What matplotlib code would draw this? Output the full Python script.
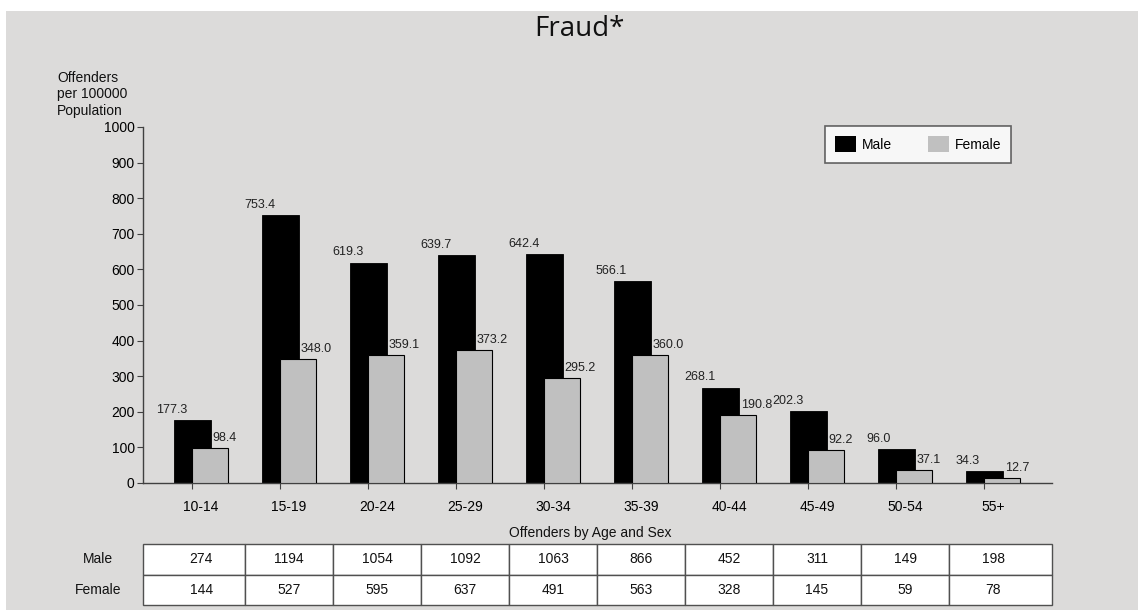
import numpy as np
import matplotlib
matplotlib.use("Agg")
import matplotlib.pyplot as plt
from matplotlib.patches import Rectangle

# データ
age_groups = ["10-14", "15-19", "20-24", "25-29", "30-34", "35-39", "40-44", "45-49", "50-54", "55+"]
male_rate = [177.3, 753.4, 619.3, 639.7, 642.4, 566.1, 268.1, 202.3, 96.0, 34.3]
female_rate = [98.4, 348.0, 359.1, 373.2, 295.2, 360.0, 190.8, 92.2, 37.1, 12.7]
male_count = [274, 1194, 1054, 1092, 1063, 866, 452, 311, 149, 198]
female_count = [144, 527, 595, 637, 491, 563, 328, 145, 59, 78]

plt.rcParams['font.family'] = ['Liberation Sans', 'DejaVu Sans']
BG = '#dcdbda'
FEMALE_C = '#c0c0c0'
EDGE = '#404040'

W, H = 1138, 610
fig = plt.figure(figsize=(W / 100, H / 100), dpi=100)
fig.patch.set_facecolor('white')
# 灰色の背景
fig.patches.append(Rectangle((6 / W, 0), 1 - 6 / W, 1 - 11 / H, transform=fig.transFigure,
                             facecolor=BG, edgecolor='none', zorder=-10))

def px_axes(x0, y0, x1, y1):
    # ピクセル座標(左上原点)でaxesを作る
    return fig.add_axes([x0 / W, 1 - y1 / H, (x1 - x0) / W, (y1 - y0) / H])

x = np.arange(len(age_groups))
xlim = (-0.66, 9.67)

ax = px_axes(143, 127, 1052, 483)
ax.set_facecolor('none')
ax.bar(x - 0.1, male_rate, width=0.42, color='black', edgecolor='black', linewidth=0.6,
       label='Male', zorder=2)
ax.bar(x + 0.1, female_rate, width=0.41, color=FEMALE_C, edgecolor='black', linewidth=0.8,
       label='Female', zorder=3)
for i in range(len(age_groups)):
    ax.annotate(f"{male_rate[i]:.1f}", (x[i] - 0.1, male_rate[i]), xytext=(-3.6, 3),
                textcoords='offset points', ha='right', va='bottom', fontsize=9, color='#222222')
    ax.annotate(f"{female_rate[i]:.1f}", (x[i] + 0.1, female_rate[i]), xytext=(2, 3),
                textcoords='offset points', ha='left', va='bottom', fontsize=9, color='#222222')

ax.set_xlim(*xlim)
ax.set_ylim(0, 1000)
ax.set_yticks(np.arange(0, 1001, 100))
ax.set_xticks(x - 0.1)
ax.set_xticklabels([])
ax.set_xticks(x, minor=True)
ax.set_xticklabels(age_groups, minor=True, fontsize=10)
ax.tick_params(axis='x', which='major', length=4, color=EDGE)
ax.tick_params(axis='x', which='minor', length=0, pad=12)
ax.tick_params(axis='y', length=4, color=EDGE, labelsize=10, pad=2)
for s in ['top', 'right']:
    ax.spines[s].set_visible(False)
for s in ['left', 'bottom']:
    ax.spines[s].set_color(EDGE)
    ax.spines[s].set_linewidth(1.0)

# 凡例. 枠は右側に少し余白がある.
leg = ax.legend(loc='upper left', bbox_to_anchor=(825 / W, 1 - 126 / H),
                bbox_transform=fig.transFigure, ncol=2, frameon=True, fancybox=False,
                fontsize=10, handlelength=1.5, handleheight=1.4, handletextpad=0.4,
                columnspacing=2.6, borderpad=0.75, borderaxespad=0)
leg.get_frame().set_edgecolor(EDGE)
leg.get_frame().set_linewidth(1.2)
for h in leg.legend_handles:
    h.set_edgecolor('none')
fig.canvas.draw()
bb = leg.get_frame().get_bbox()
leg.get_frame().set_width(1017 - 825)

fig.text(579 / W, 1 - 29 / H, "Fraud*", ha='center', va='center', fontsize=20,
         family=['Open Sans', 'DejaVu Sans'], color='#111111')
fig.text(57 / W, 1 - 71 / H, "Offenders\nper 100000\nPopulation", ha='left', va='top',
         fontsize=10, linespacing=1.22, color='#111111')
fig.text(590 / W, 1 - 533 / H, "Offenders by Age and Sex", ha='center', va='center',
         fontsize=10, color='#111111')

# 表
tax = px_axes(143, 544, 1052, 605)
tax.set_xlim(*xlim)
tax.set_ylim(0, 2)
tax.axis('off')
bounds = [xlim[0]] + list(x[:-1] + 0.5) + [xlim[1]]
rows = [male_count, female_count]
for r, vals in enumerate(rows):
    y0 = 1 - r
    for i in range(len(age_groups)):
        tax.add_patch(Rectangle((bounds[i], y0), bounds[i + 1] - bounds[i], 1,
                                facecolor='white', edgecolor='#505050', linewidth=1.0,
                                clip_on=False))
        tax.text(x[i], y0 + 0.5, str(vals[i]), ha='center', va='center', fontsize=10,
                 color='#111111')
fig.text(98 / W, 1 - 559 / H, "Male", ha='center', va='center', fontsize=10, color='#111111')
fig.text(98 / W, 1 - 590 / H, "Female", ha='center', va='center', fontsize=10, color='#111111')

fig.savefig("out.png", dpi=100)
